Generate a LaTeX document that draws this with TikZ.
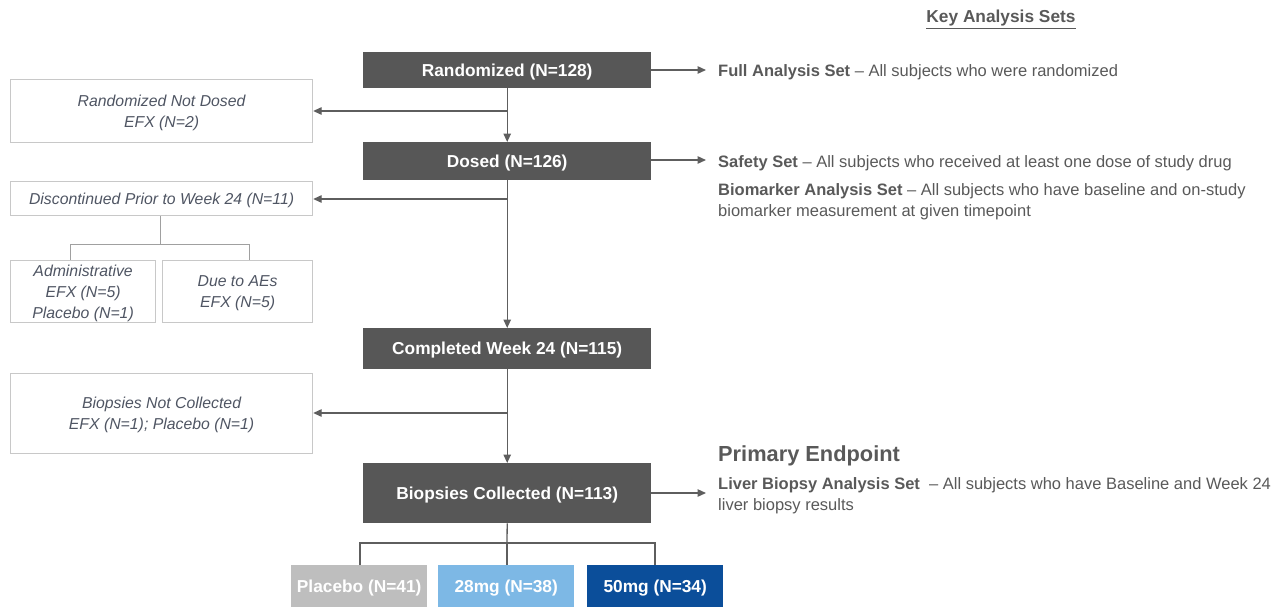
\documentclass[tikz,border=0pt]{standalone}
\usepackage{fontspec}
\setmainfont{Liberation Sans}
\usetikzlibrary{arrows.meta}
\definecolor{dark}{HTML}{575757}
\definecolor{linec}{HTML}{5E5E5E}
\definecolor{txt}{HTML}{595959}
\definecolor{itxt}{HTML}{4F5563}
\definecolor{bord}{HTML}{C8C8C8}
\definecolor{plc}{HTML}{BEBEBE}
\definecolor{lblue}{HTML}{7DB8E5}
\definecolor{dblue}{HTML}{0B4E9A}
\tikzset{
  x=1pt, y=-1pt,
  darkbox/.style={fill=dark, draw=none, text=white, font=\fontsize{17.3}{20}\selectfont\bfseries, inner sep=0pt, text depth=0pt, anchor=north west},
  whitebox/.style={draw=bord, line width=1.2pt, fill=white, text=itxt, font=\fontsize{15.8}{21}\selectfont\itshape, align=center, inner sep=0pt, text depth=0pt, anchor=north west},
  armbox/.style={draw=none, text=white, font=\fontsize{17.3}{20}\selectfont\bfseries, inner sep=0pt, text depth=0pt, anchor=north west},
  conn/.style={draw=linec, line width=1.3pt},
  arr/.style={conn, -{Triangle[length=8.5pt,width=7.5pt]}},
  thin/.style={draw=bord!80!black, line width=1pt},
  desc/.style={text=txt, font=\fontsize{16.5}{21}\selectfont, anchor=west, align=left, inner sep=0pt},
}
\begin{document}
\begin{tikzpicture}
\useasboundingbox (0,0) rectangle (1285,611);
% dark boxes
\node[darkbox, minimum width=288pt, minimum height=36pt] (rand) at (363,52) {Randomized (N=128)};
\node[darkbox, minimum width=288pt, minimum height=38pt] (dosed) at (363,142) {Dosed (N=126)};
\node[darkbox, minimum width=288pt, minimum height=41pt] (comp) at (363,328) {Completed Week 24 (N=115)};
\node[darkbox, minimum width=288pt, minimum height=60pt] (bio) at (363,463) {Biopsies Collected (N=113)};
% arms
\node[armbox, fill=plc, minimum width=136pt, minimum height=42pt] (plac) at (291,565) {Placebo (N=41)};
\node[armbox, fill=lblue, minimum width=136pt, minimum height=42pt] (m28) at (438,565) {28mg (N=38)};
\node[armbox, fill=dblue, minimum width=136pt, minimum height=42pt] (m50) at (587,565) {50mg (N=34)};
% white boxes
\node[whitebox, minimum width=302pt, minimum height=63pt] (rnd) at (10,79) {Randomized Not Dosed\\EFX (N=2)};
\node[whitebox, minimum width=302pt, minimum height=34pt] (disc) at (10,181) {Discontinued Prior to Week 24 (N=11)};
\node[whitebox, minimum width=145pt, minimum height=62pt] (adm) at (10,260) {Administrative\\EFX (N=5)\\Placebo (N=1)};
\node[whitebox, minimum width=150pt, minimum height=62pt] (ae) at (162,260) {Due to AEs\\EFX (N=5)};
\node[whitebox, minimum width=302pt, minimum height=80pt] (bnc) at (10,373) {Biopsies Not Collected\\EFX (N=1); Placebo (N=1)};
% main flow
\draw[arr] (rand.south) -- (dosed.north);
\draw[arr] (dosed.south) -- (comp.north);
\draw[arr] (comp.south) -- (bio.north);
\coordinate (j1) at (507,111);
\coordinate (j2) at (507,199);
\coordinate (j3) at (507,413);
\draw[arr] (j1) -- (rnd.east |- j1);
\draw[arr] (j2) -- (disc.east |- j2);
\draw[arr] (j3) -- (bnc.east |- j3);
% discontinued branch
\coordinate (d1) at (160,244);
\draw[thin] (disc.south -| d1) -- (d1);
\draw[thin] (adm.north -| 70,0) -- (70,244) -- (249,244) -- (ae.north -| 249,0);
% bottom branch
\coordinate (b1) at (507,543);
\draw[conn] (bio.south) -- (b1);
\draw[conn] (plac.north -| 360,0) -- (360,543) -- (655,543) -- (m50.north -| 655,0);
\draw[conn] (b1) -- (m28.north -| b1);
% right arrows
\coordinate (r1) at (706,70);
\coordinate (r2) at (706,160);
\coordinate (r3) at (706,493);
\draw[arr] (rand.east |- r1) -- (r1);
\draw[arr] (dosed.east |- r2) -- (r2);
\draw[arr] (bio.east |- r3) -- (r3);
% descriptions
\node[text=txt, font=\fontsize{17.3}{20}\selectfont\bfseries, anchor=center, inner sep=0pt] (kas) at (1001,19.5) {\underline{Key Analysis Sets}};
\node[desc] (fas) at (718,72.5) {\textbf{Full Analysis Set} -- All subjects who were randomized};
\node[desc] (ss) at (718,163.5) {\textbf{Safety Set} -- All subjects who received at least one dose of study drug};
\node[desc] (bas) at (718,201.5) {\textbf{Biomarker Analysis Set} -- All subjects who have baseline and on-study\\biomarker measurement at given timepoint};
\node[text=txt, font=\fontsize{21.8}{26}\selectfont\bfseries, anchor=west, inner sep=0pt] (pe) at (718,456) {Primary Endpoint};
\node[desc] (lbas) at (718,496) {\textbf{Liver Biopsy Analysis Set}\ \ -- All subjects who have Baseline and Week 24\\liver biopsy results};
\end{tikzpicture}
\end{document}
